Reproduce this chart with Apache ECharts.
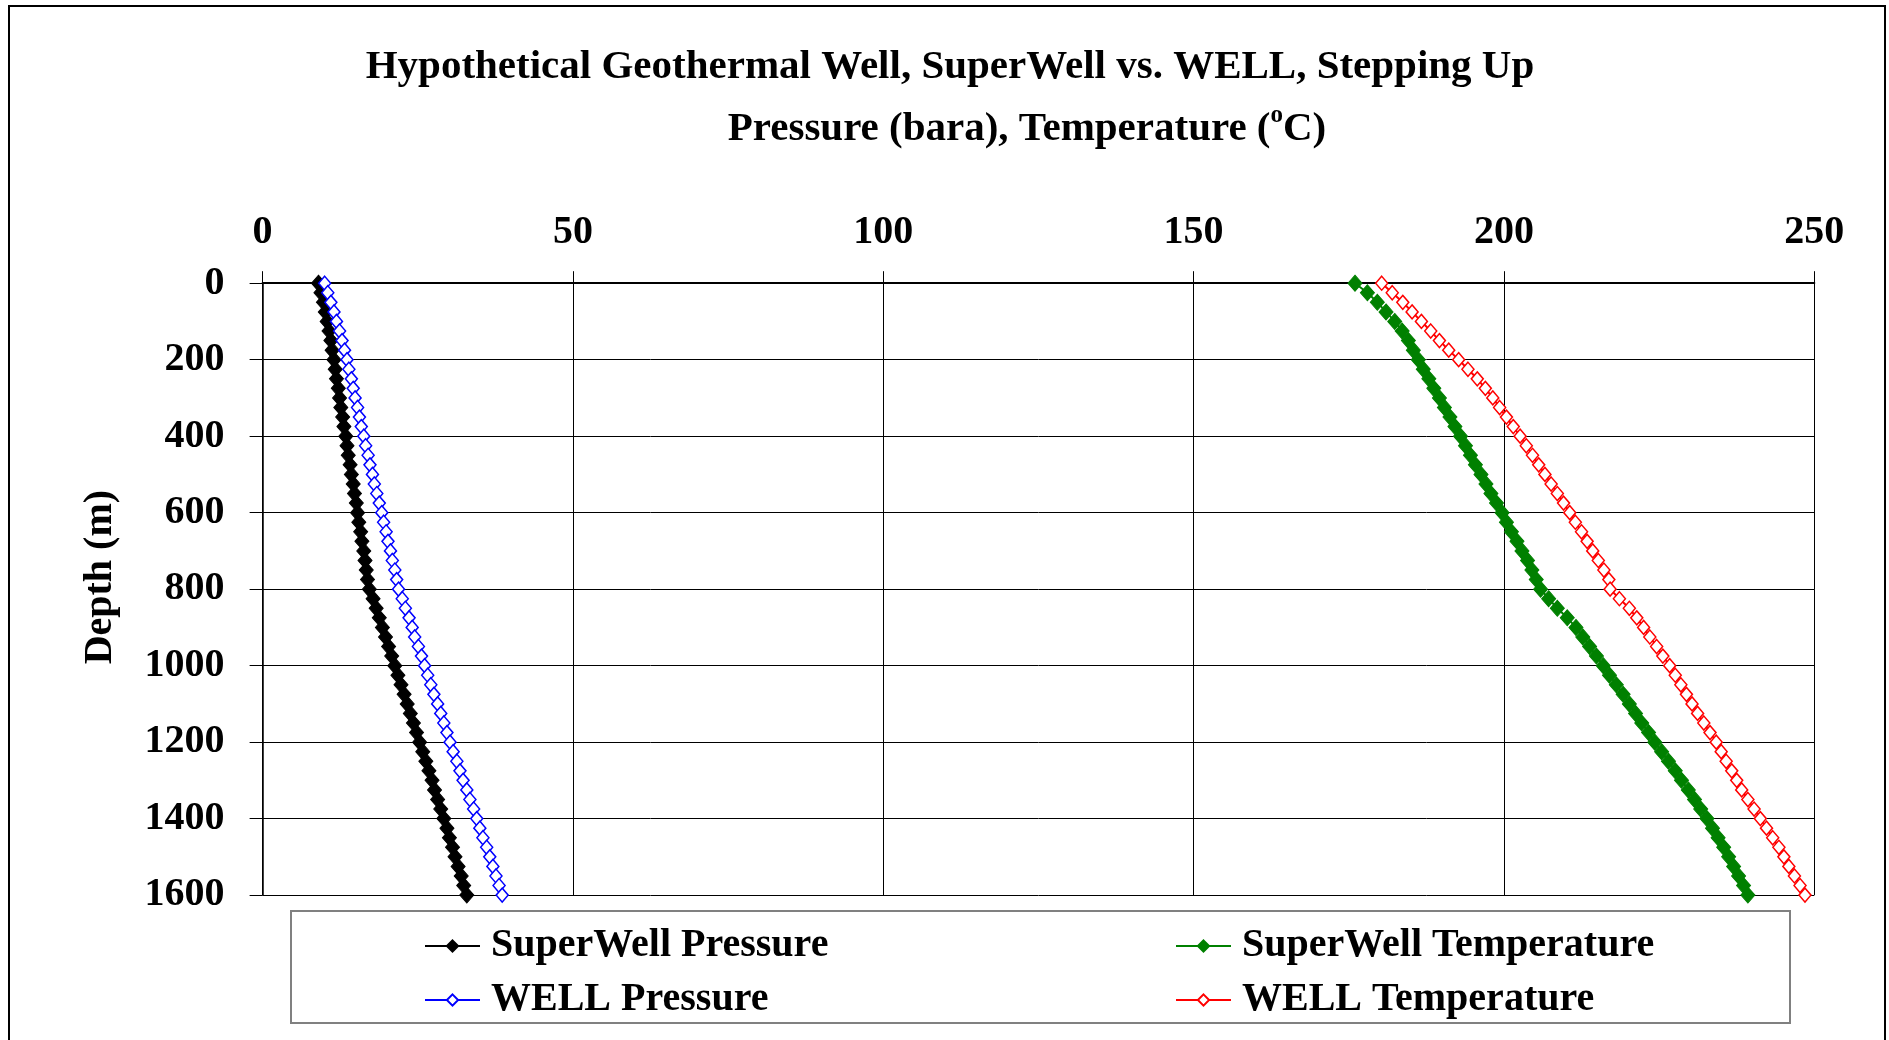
<!DOCTYPE html>
<html>
<head>
<meta charset="utf-8">
<script src="https://cdn.jsdelivr.net/npm/echarts@6/dist/echarts.min.js"></script>
<style>
html,body{margin:0;padding:0;background:#fff;}
#chart{width:1889px;height:1040px;}
</style>
</head>
<body>
<div id="chart"></div>
<script>
// Depth (m) of each reading
const depths = [0,25,50,75,100,125,150,175,200,225,250,275,300,325,350,375,400,425,450,475,500,525,550,575,600,625,650,675,700,725,750,775,800,825,850,875,900,925,950,975,1000,1025,1050,1075,1100,1125,1150,1175,1200,1225,1250,1275,1300,1325,1350,1375,1400,1425,1450,1475,1500,1525,1550,1575,1600];

// SuperWell Pressure (bara)
const superWellPressure = [9.0,9.4,9.8,10.1,10.4,10.7,11.0,11.2,11.5,11.7,11.9,12.2,12.4,12.6,12.9,13.1,13.4,13.6,13.8,14.1,14.3,14.6,14.8,15.1,15.3,15.5,15.8,16.0,16.3,16.5,16.7,16.9,17.2,17.8,18.3,18.8,19.3,19.8,20.3,20.8,21.3,21.8,22.3,22.8,23.3,23.8,24.3,24.8,25.3,25.8,26.3,26.8,27.3,27.7,28.2,28.7,29.2,29.7,30.1,30.6,31.0,31.5,32.0,32.4,32.9];

// WELL Pressure (bara)
const wellPressure = [10.0,10.5,11.0,11.5,11.9,12.4,12.8,13.2,13.6,13.9,14.3,14.6,14.9,15.3,15.6,15.9,16.3,16.6,17.0,17.3,17.7,18.0,18.4,18.8,19.2,19.5,19.9,20.2,20.6,20.9,21.3,21.6,21.9,22.5,23.0,23.6,24.1,24.5,25.1,25.6,26.1,26.6,27.1,27.6,28.2,28.7,29.2,29.7,30.2,30.7,31.3,31.8,32.3,32.9,33.4,34.0,34.5,35.0,35.5,36.1,36.6,37.1,37.6,38.1,38.6];

// SuperWell Temperature (degC)
const superWellTemperature = [176.0,178.0,179.6,181.0,182.4,183.6,184.6,185.4,186.2,187.0,187.9,188.7,189.6,190.4,191.3,192.1,193.0,193.8,194.6,195.4,196.3,197.1,197.9,198.8,199.7,200.4,201.2,202.1,202.9,203.8,204.5,205.2,205.9,207.2,208.6,210.2,211.6,212.7,213.8,214.9,216.0,217.0,218.1,219.2,220.2,221.2,222.2,223.3,224.3,225.4,226.5,227.6,228.6,229.7,230.7,231.7,232.7,233.6,234.5,235.4,236.2,237.0,237.8,238.6,239.3];

// WELL Temperature (degC)
const wellTemperature = [180.3,182.0,183.7,185.2,186.7,188.2,189.6,191.1,192.7,194.2,195.7,197.0,198.2,199.3,200.4,201.5,202.6,203.6,204.6,205.6,206.6,207.6,208.6,209.6,210.6,211.5,212.5,213.4,214.3,215.2,216.1,216.9,217.1,218.6,220.2,221.4,222.5,223.5,224.6,225.6,226.7,227.6,228.5,229.4,230.3,231.2,232.2,233.2,234.2,235.0,235.8,236.7,237.5,238.3,239.3,240.3,241.3,242.3,243.3,244.3,245.1,245.9,246.8,247.7,248.5];

const seriesNames = ['SuperWell Pressure','WELL Pressure','SuperWell Temperature','WELL Temperature'];
const xTicks = [0,50,100,150,200,250];
const yTicks = [0,200,400,600,800,1000,1200,1400,1600];

const FONT = "'Liberation Serif','Times New Roman',serif";
const pairs = vals => vals.map((v,i)=>[v, depths[i]]);

const chart = echarts.init(document.getElementById('chart'));

function lineSeries(name, vals, color, filled){
  return {
    name: name,
    type: 'line',
    data: pairs(vals),
    symbol: 'diamond',
    symbolSize: filled ? [14, 16] : [12, 14],
    showAllSymbol: true,
    lineStyle: {color: color, width: 2},
    itemStyle: filled ? {color: color, borderColor: color, borderWidth: 1}
                      : {color: '#ffffff', borderColor: color, borderWidth: 1.5},
    emphasis: {disabled: true}
  };
}

const legendText = {fontFamily: FONT, fontWeight: 'bold', fontSize: 40, color: '#000', lineHeight: 40, padding: [0,0,0,6]};

chart.setOption({
  animation: false,
  backgroundColor: '#ffffff',
  title: [
    {text: 'Hypothetical Geothermal Well, SuperWell vs. WELL, Stepping Up', left: 950, top: 67, textAlign: 'center', textVerticalAlign: 'middle', padding: 0,
     textStyle: {fontFamily: FONT, fontWeight: 'bold', fontSize: 41, color: '#000'}},
    {text: 'Pressure (bara), Temperature ({sup|o}C)', left: 1027, top: 129, textAlign: 'center', textVerticalAlign: 'middle', padding: 0,
     textStyle: {fontFamily: FONT, fontWeight: 'bold', fontSize: 41, color: '#000', lineHeight: 52,
       rich: {sup: {fontFamily: FONT, fontWeight: 'bold', fontSize: 25, color: '#000', lineHeight: 20, verticalAlign: 'top'}}}}
  ],
  grid: {left: 262.6, right: 74.7, top: 283.2, bottom: 144.9, containLabel: false},
  xAxis: {
    type: 'value', position: 'top', min: 0, max: 250, interval: 50,
    axisLine: {show: true, onZero: false, lineStyle: {color: '#000', width: 2}},
    axisTick: {show: true, inside: false, length: 12, lineStyle: {color: '#000', width: 1}},
    axisLabel: {margin: 31, fontFamily: FONT, fontWeight: 'bold', fontSize: 40, color: '#000',
      formatter: v => xTicks.indexOf(v) >= 0 ? String(v) : ''},
    splitLine: {show: true, lineStyle: {color: '#000', width: 1}}
  },
  yAxis: {
    type: 'value', inverse: true, min: 0, max: 1600, interval: 200,
    name: 'Depth (m)', nameLocation: 'middle', nameGap: 142,
    nameTextStyle: {fontFamily: FONT, fontWeight: 'bold', fontSize: 40, color: '#000', padding: [0,0,0,24]},
    axisLine: {show: true, onZero: false, lineStyle: {color: '#000', width: 1.5}},
    axisTick: {show: true, inside: false, length: 13, lineStyle: {color: '#000', width: 1}},
    axisLabel: {margin: 38, fontFamily: FONT, fontWeight: 'bold', fontSize: 40, color: '#000', padding: [10,0,0,0],
      formatter: v => yTicks.indexOf(v) >= 0 ? String(v) : ''},
    splitLine: {show: true, lineStyle: {color: '#000', width: 1}}
  },
  legend: [
    {data: [seriesNames[0], seriesNames[1]], orient: 'vertical', left: 424, top: 926, padding: 0,
     itemWidth: 55, itemHeight: 14, itemGap: 14, textStyle: legendText, selectedMode: false},
    {data: [seriesNames[2], seriesNames[3]], orient: 'vertical', left: 1175, top: 926, padding: 0,
     itemWidth: 55, itemHeight: 14, itemGap: 14, textStyle: legendText, selectedMode: false}
  ],
  graphic: [
    {type: 'rect', z: -1, shape: {x: 9, y: 6, width: 1876, height: 1060}, style: {fill: 'none', stroke: '#000', lineWidth: 2}},
    {type: 'rect', shape: {x: 291, y: 911, width: 1499, height: 112}, style: {fill: 'none', stroke: '#808080', lineWidth: 2}}
  ],
  series: [
    lineSeries(seriesNames[0], superWellPressure, '#000000', true),
    lineSeries(seriesNames[1], wellPressure, '#0000ff', false),
    lineSeries(seriesNames[2], superWellTemperature, '#008000', true),
    lineSeries(seriesNames[3], wellTemperature, '#ff0000', false)
  ]
});
</script>
</body>
</html>
